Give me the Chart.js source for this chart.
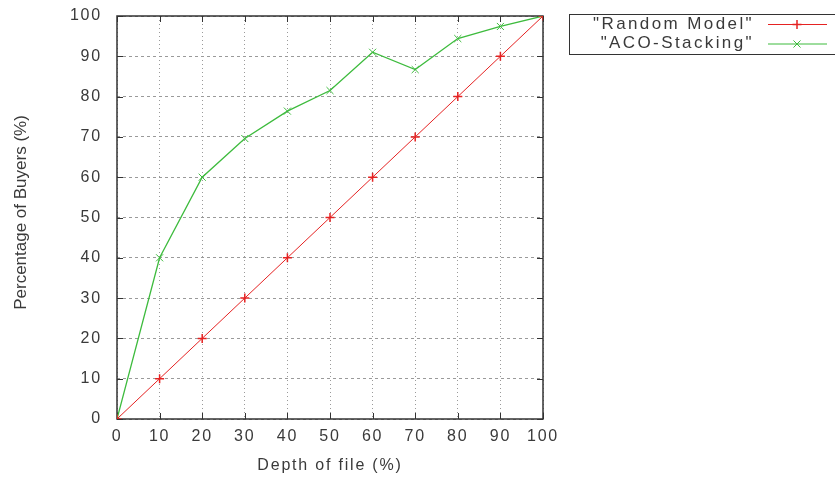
<!DOCTYPE html>
<html>
<head>
<meta charset="utf-8">
<script src="https://cdn.jsdelivr.net/npm/chart.js@4/dist/chart.umd.min.js"></script>
<style>
  html, body { margin: 0; padding: 0; background: #fff; }
  #caixa { width: 835px; height: 478px; position: relative; }
</style>
</head>
<body>
<div id="caixa"><canvas id="grafico"></canvas></div>
<script>
// profundidade do arquivo (%) e percentual de compradores (%)
const profundidade = [0, 10, 20, 30, 40, 50, 60, 70, 80, 90, 100];
const modeloAleatorio = [0, 10, 20, 30, 40, 50, 60, 70, 80, 90, 100];
const acoStacking = [0, 40, 60, 69.6, 76.4, 81.5, 91, 86.7, 94.4, 97.4, 100];
const marcasX = [0, 10, 20, 30, 40, 50, 60, 70, 80, 90, 100];
const marcasY = [0, 10, 20, 30, 40, 50, 60, 70, 80, 90, 100];
const tituloY = 'Percentage of Buyers (%)';

const corTexto = '#3a3a3a';
const fonte = 'Liberation Sans, Arial, sans-serif';

const pontos = (ys) => profundidade.map((x, i) => ({ x: x, y: ys[i] }));

// espa칞amento entre letras, parecido com o gnuplot
const espacamento = {
    id: 'espacamento',
    beforeDraw(chart) {
        chart.ctx.letterSpacing = '1.8px';
    }
};

// borda e marcas internas (estilo gnuplot)
const moldura = {
    id: 'moldura',
    beforeDatasetsDraw(chart) {
        const { ctx, chartArea: a, scales: { x, y } } = chart;
        ctx.save();
        ctx.strokeStyle = '#333';
        ctx.lineWidth = 1;
        ctx.beginPath();
        y.ticks.forEach(t => {
            const py = Math.round(y.getPixelForValue(t.value)) + 0.5;
            ctx.moveTo(a.left, py); ctx.lineTo(a.left + 6, py);
            ctx.moveTo(a.right, py); ctx.lineTo(a.right - 6, py);
        });
        x.ticks.forEach(t => {
            const px = Math.round(x.getPixelForValue(t.value)) + 0.5;
            ctx.moveTo(px, a.bottom); ctx.lineTo(px, a.bottom - 6);
            ctx.moveTo(px, a.top); ctx.lineTo(px, a.top + 6);
        });
        ctx.stroke();
        ctx.lineWidth = 1.5;
        ctx.strokeRect(a.left, a.top, a.right - a.left, a.bottom - a.top);
        ctx.restore();
    }
};

// titulo do eixo y e legenda em caixa
const textosExtras = {
    id: 'textosExtras',
    afterDraw(chart) {
        const ctx = chart.ctx;
        const a = chart.chartArea;
        ctx.save();
        ctx.letterSpacing = '0px';
        ctx.fillStyle = corTexto;
        ctx.font = '17px ' + fonte;
        ctx.textAlign = 'center';
        ctx.textBaseline = 'middle';
        ctx.translate(21, (a.top + a.bottom) / 2 - 5);
        ctx.rotate(-Math.PI / 2);
        ctx.fillText(tituloY, 0, 0);
        ctx.restore();

        ctx.save();
        ctx.strokeStyle = '#333';
        ctx.lineWidth = 1;
        ctx.strokeRect(569.5, 14.5, 300, 40);
        ctx.letterSpacing = '2.4px';
        ctx.font = '17px ' + fonte;
        ctx.fillStyle = corTexto;
        ctx.textAlign = 'right';
        ctx.textBaseline = 'middle';
        chart.data.datasets.forEach((ds, i) => {
            const yy = 24 + i * 19.5;
            ctx.fillText('"' + ds.label + '"', 754, yy);
            ctx.strokeStyle = ds.borderColor;
            ctx.lineWidth = 1;
            ctx.beginPath();
            ctx.moveTo(768, yy + 0.5);
            ctx.lineTo(827, yy + 0.5);
            ctx.stroke();
            ctx.lineWidth = ds.pointBorderWidth;
            Chart.helpers.drawPoint(ctx, {
                pointStyle: ds.pointStyle, radius: ds.pointRadius, rotation: 0, borderWidth: ds.pointBorderWidth
            }, 797, yy + 0.5);
        });
        ctx.restore();
    }
};

new Chart(document.getElementById('grafico'), {
    type: 'line',
    data: {
        datasets: [
            {
                label: 'Random Model',
                data: pontos(modeloAleatorio),
                borderColor: '#e52222',
                backgroundColor: '#e52222',
                borderWidth: 1,
                pointStyle: 'cross',
                pointRadius: 4.5,
                pointBorderWidth: 1.5,
                tension: 0
            },
            {
                label: 'ACO-Stacking',
                data: pontos(acoStacking),
                borderColor: '#3dbb3d',
                backgroundColor: '#3dbb3d',
                borderWidth: 1.3,
                pointStyle: 'crossRot',
                pointRadius: 5,
                pointBorderWidth: 1,
                tension: 0
            }
        ]
    },
    options: {
        responsive: true,
        maintainAspectRatio: false,
        animation: false,
        layout: { padding: { left: 0, top: 16, right: 292, bottom: 0 } },
        plugins: {
            legend: { display: false },
            tooltip: { enabled: false }
        },
        scales: {
            x: {
                type: 'linear',
                min: 0,
                max: 100,
                afterBuildTicks: (s) => { s.ticks = marcasX.map(v => ({ value: v })); },
                afterFit: (s) => { s.height = 59; s.paddingLeft = 0; s.paddingRight = 0; },
                grid: { color: '#9a9a9a', drawTicks: false },
                border: { display: false, dash: [1, 3] },
                ticks: { color: corTexto, padding: 8, font: { family: fonte, size: 16 }, maxRotation: 0 },
                title: {
                    display: true,
                    text: 'Depth of file (%)',
                    color: corTexto,
                    font: { family: fonte, size: 16 },
                    padding: { top: 0, bottom: 3 }
                }
            },
            y: {
                min: 0,
                max: 100,
                afterBuildTicks: (s) => { s.ticks = marcasY.map(v => ({ value: v })); },
                afterFit: (s) => { s.width = 117; s.paddingTop = 0; s.paddingBottom = 0; },
                grid: { color: '#9a9a9a', drawTicks: false },
                border: { display: false, dash: [3, 3] },
                ticks: { color: corTexto, padding: 15, font: { family: fonte, size: 16 } }
            }
        }
    },
    plugins: [espacamento, moldura, textosExtras]
});
</script>
</body>
</html>
